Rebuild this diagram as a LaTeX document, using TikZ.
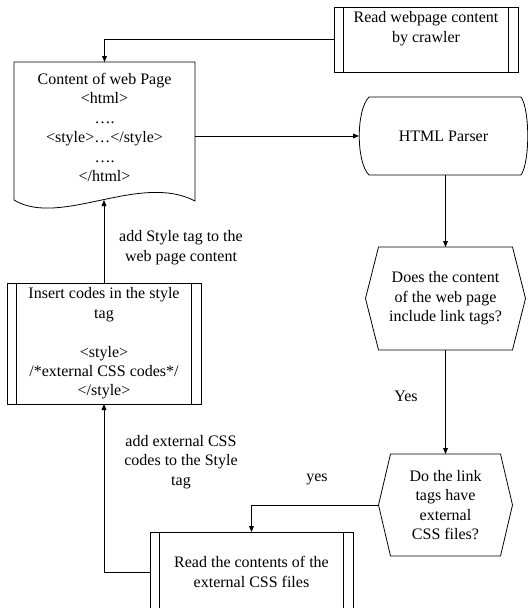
\documentclass[tikz,border=0pt]{standalone}
\usepackage{fontspec}
\setmainfont{Liberation Serif}
\usetikzlibrary{positioning}
\usetikzlibrary{calc}
\usetikzlibrary{arrows.meta}
\tikzset{sub process/.style={
          draw, rectangle, inner sep=0pt, outer sep=0pt, align=center,
          path picture={ % the two inner bars of a predefined process
            \draw ([xshift=7pt]path picture bounding box.north west) -- ([xshift=7pt]path picture bounding box.south west);
            \draw ([xshift=-7pt]path picture bounding box.north east) -- ([xshift=-7pt]path picture bounding box.south east);
            },
          },
        shape only/.style={rectangle, inner sep=0pt, outer sep=0pt, align=center},
        side note/.style={align=center, inner sep=0pt},
        flow/.style={-{Triangle[length=4.5pt,width=3.6pt]}},
}

\begin{document}
\begin{tikzpicture}[x=0.75pt, y=-0.75pt, line width=0.6pt, font=\fontsize{12}{14.6}\selectfont]
      \useasboundingbox (0,0) rectangle (528,608);
      % CRAWLER
      \node[sub process, minimum width=138pt, minimum height=48.75pt] (crawl) at (426,39.5) {Read webpage content\\by crawler\\\strut};

      % WEB PAGE
      \node[shape only, minimum width=135.75pt, minimum height=98.25pt] (doc) at (104.5,127.5) {Content of web Page\\<html>\\….\\<style>…</style>\\….\\</html>};
      \draw (doc.north west) -- (doc.north east) -- ($(doc.south east)+(0,8)$)
        .. controls ($(doc.south east)+(-55,-21)$) and ($(doc.south west)+(46,35)$) .. ($(doc.south west)+(0,7)$) -- cycle;
      \coordinate (docwave) at ($(doc.south)+(0,7)$);

      % HTML PARSER
      \node[shape only, minimum width=126.75pt, minimum height=58.5pt] (parser) at (443.5,136) {HTML Parser};
      \draw ($(parser.north west)+(10,0)$) -- ($(parser.north east)+(-7,0)$)
        .. controls ($(parser.north east)+(2,13)$) and ($(parser.south east)+(2,-13)$) .. ($(parser.south east)+(-7,0)$)
        -- ($(parser.south west)+(10,0)$)
        .. controls ($(parser.south west)+(-3,-13)$) and ($(parser.north west)+(-3,13)$) .. ($(parser.north west)+(10,0)$) -- cycle;

      % DECISIONS
      \node[shape only, minimum width=120pt, minimum height=77.25pt] (hexa) at (445.5,298.5) {Does the content\\of the web page\\include link tags?};
      \draw (hexa.west) -- ($(hexa.north west)+(13,0)$) -- ($(hexa.north east)+(-13,0)$) -- (hexa.east)
        -- ($(hexa.south east)+(-13,0)$) -- ($(hexa.south west)+(13,0)$) -- cycle;
      \node[shape only, minimum width=100.5pt, minimum height=76.5pt, below=78pt of hexa] (hexb) {Do the link\\tags have\\external\\CSS files?};
      \draw (hexb.west) -- ($(hexb.north west)+(12,0)$) -- ($(hexb.north east)+(-12,0)$) -- (hexb.east)
        -- ($(hexb.south east)+(-12,0)$) -- ($(hexb.south west)+(12,0)$) -- cycle;

      % INSERT CODES
      \node[sub process, minimum width=145.5pt, minimum height=90.75pt] (insert) at (104,343.5) {Insert codes in the style\\tag\\\strut\\<style>\\/*external CSS codes*/\\</style>};

      % READ CSS FILES
      \node[sub process, minimum width=152.25pt, minimum height=60pt] (getcss) at (251.5,572) {Read the contents of the\\external CSS files};

      % LABELS
      \node[side note] (notestyle) at (181,247.5) {add Style tag to the\\web page content};
      \node[side note] (notecss) at (181,462) {add external CSS\\codes to the Style\\tag};
      \node[side note] (yesa) at (406,396) {Yes};
      \node[side note] (yesb) at (317,479) {yes};

      % ARROWS
      \draw[flow] (crawl.west) -| (doc.north);
      \draw[flow] (doc.east |- parser.west) -- (parser.west);
      \draw[flow] (hexa.north |- parser.south) -- (hexa.north);
      \draw[flow] (hexa.south) -- (hexb.north);
      \draw[flow] (hexb.west) -| (getcss.north);
      \draw[flow] (getcss.west) -| (insert.south);
      \draw[flow] (insert.north) -- (insert.north |- docwave);

\end{tikzpicture}
\end{document}
